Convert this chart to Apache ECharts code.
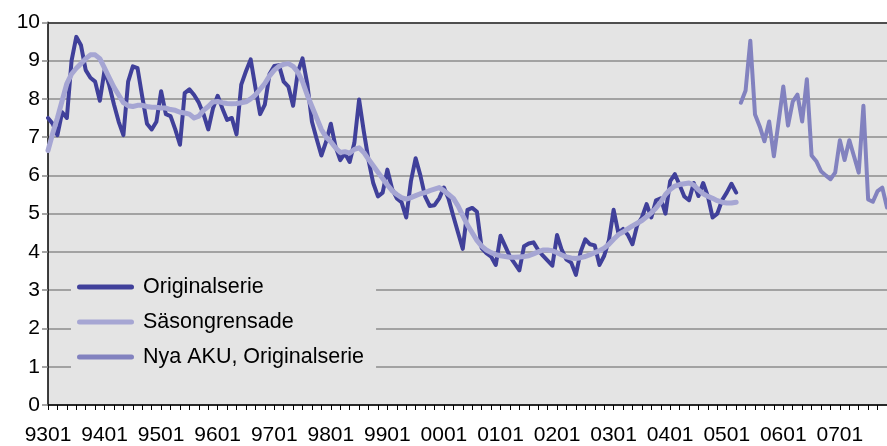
<!DOCTYPE html>
<html>
<head>
<meta charset="utf-8">
<script src="https://cdn.jsdelivr.net/npm/echarts@6/dist/echarts.min.js"></script>
<style>html,body{margin:0;padding:0;background:#fff}#c{width:887px;height:446px}</style>
</head>
<body>
<div id="c"></div>
<script>
// Categories: monthly, 9301 .. 0711 (YYMM)
const categories = [];
for (let y = 1993; y <= 2007; y++) {
  for (let m = 1; m <= 12; m++) {
    if (y === 2007 && m > 11) break;
    categories.push(String(y % 100).padStart(2, '0') + String(m).padStart(2, '0'));
  }
}
const yTicks = [0,1,2,3,4,5,6,7,8,9,10];

// Originalserie 9301 .. 0503
const originalserie = [
  7.5, 7.35, 7.05, 7.65, 7.5, 9.0, 9.62, 9.4, 8.75, 8.55, 8.45, 7.95,
  8.75, 8.35, 7.85, 7.4, 7.05, 8.45, 8.85, 8.8, 8.05, 7.35, 7.2, 7.4,
  8.2, 7.6, 7.55, 7.2, 6.8, 8.15, 8.25, 8.1, 7.9, 7.6, 7.2, 7.75,
  8.08, 7.75, 7.45, 7.5, 7.07, 8.37, 8.72, 9.03, 8.3, 7.6, 7.85, 8.65,
  8.86, 8.88, 8.45, 8.32, 7.82, 8.7, 9.06, 8.4, 7.4, 6.95, 6.52, 6.88,
  7.35, 6.75, 6.4, 6.58, 6.35, 6.85, 7.98, 7.15, 6.4, 5.8, 5.45, 5.55,
  6.15, 5.65, 5.4, 5.3, 4.9, 5.85, 6.45, 6.0, 5.45, 5.2, 5.22, 5.4,
  5.68, 5.38, 4.93, 4.5, 4.08, 5.1, 5.15, 5.05, 4.1, 3.97, 3.88, 3.66,
  4.42, 4.15, 3.88, 3.7, 3.52, 4.15, 4.22, 4.25, 4.05, 3.9, 3.77, 3.64,
  4.44, 4.05, 3.8, 3.72, 3.4, 4.0, 4.33, 4.2, 4.17, 3.66, 3.9, 4.3,
  5.1, 4.5, 4.6, 4.45, 4.2, 4.7, 4.9, 5.25, 4.9, 5.35, 5.4, 5.0,
  5.85, 6.03, 5.75, 5.45, 5.35, 5.8, 5.46, 5.8, 5.45, 4.9, 5.0, 5.35,
  5.55, 5.78, 5.55
];

// Säsongrensade 9301 .. 0503
const sasongrensade = [
  6.65, 7.1, 7.5, 7.95, 8.4, 8.65, 8.8, 8.92, 9.05, 9.15, 9.15, 9.05,
  8.8, 8.55, 8.3, 8.1, 7.9, 7.82, 7.8, 7.83, 7.83, 7.8, 7.78, 7.78,
  7.76, 7.76, 7.72, 7.7, 7.65, 7.63, 7.6, 7.5, 7.55, 7.7, 7.8, 7.92,
  7.93, 7.9, 7.88, 7.87, 7.88, 7.9, 7.92, 8.0, 8.1, 8.25, 8.4, 8.6,
  8.75, 8.85, 8.9, 8.92, 8.85, 8.7, 8.45, 8.1, 7.8, 7.5, 7.2, 7.0,
  6.88, 6.72, 6.6, 6.62, 6.58, 6.68, 6.72, 6.6, 6.42, 6.25, 6.08, 5.92,
  5.75, 5.6, 5.5, 5.42, 5.38, 5.42, 5.47, 5.52, 5.55, 5.6, 5.64, 5.68,
  5.6, 5.5, 5.4, 5.2, 4.95, 4.7, 4.5, 4.3, 4.15, 4.05, 3.98, 3.93,
  3.9, 3.88, 3.86, 3.86, 3.87, 3.88, 3.9, 3.95, 4.0, 4.05, 4.05, 4.03,
  3.98, 3.92, 3.87, 3.84, 3.83, 3.85, 3.88, 3.93, 3.98, 4.03, 4.1, 4.2,
  4.33, 4.45, 4.52, 4.6, 4.68, 4.75, 4.82, 4.92, 5.02, 5.15, 5.3, 5.5,
  5.63, 5.72, 5.76, 5.78, 5.8, 5.75, 5.62, 5.52, 5.45, 5.4, 5.34, 5.3,
  5.28, 5.28, 5.3
];

// Nya AKU, Originalserie 0504 .. 0711
const nyaAkuStart = '0504';
const nyaAku = [
  7.9, 8.22, 9.52, 7.59, 7.28, 6.89, 7.41, 6.5, 7.4, 8.32, 7.3, 7.93,
  8.11, 7.41, 8.51, 6.52, 6.37, 6.11, 6.0, 5.9, 6.07, 6.92, 6.4, 6.92,
  6.5, 6.07, 7.82, 5.37, 5.31, 5.59, 5.68, 5.16
];

const seriesNames = ['Originalserie', 'Säsongrensade', 'Nya AKU, Originalserie'];
const colors = ['#40409a', '#a6a6d3', '#8282bf'];

function pad(arr, startIdx) {
  const out = new Array(categories.length).fill(null);
  arr.forEach((v, k) => { out[startIdx + k] = v; });
  return out;
}
const nyaIdx = categories.indexOf(nyaAkuStart);

const FONT = '"Liberation Sans", Arial, sans-serif';
const chart = echarts.init(document.getElementById('c'), null, {renderer: 'canvas'});
const legendIcon = 'path://M2.5,0 L54.5,0 A2.5,2.5 0 0 1 54.5,5 L2.5,5 A2.5,2.5 0 0 1 2.5,0 Z';

chart.setOption({
  animation: false,
  backgroundColor: '#ffffff',
  color: colors,
  grid: {
    left: 48, right: 0, top: 22.3, bottom: 39.3,
    show: true, backgroundColor: '#e4e4e4', borderWidth: 0
  },
  legend: {
    orient: 'vertical',
    left: 71, top: 262,
    padding: [14, 12, 14, 6],
    backgroundColor: '#e4e4e4',
    itemWidth: 57, itemHeight: 5,
    itemGap: 13,
    icon: legendIcon,
    textStyle: { fontFamily: FONT, fontSize: 21.5, color: '#000', padding: [0, 0, 0, 4] },
    data: seriesNames
  },
  xAxis: [{
    type: 'category',
    data: categories,
    boundaryGap: false,
    axisLine: { lineStyle: { color: '#000', width: 1.5 } },
    axisTick: { interval: 1, length: 5, lineStyle: { color: '#000', width: 1 } },
    axisLabel: { interval: 11, margin: 20, fontFamily: FONT, fontSize: 21, color: '#000' },
    splitLine: { show: false }
  }, {
    type: 'category',
    data: categories,
    boundaryGap: false,
    position: 'top',
    axisLine: { lineStyle: { color: '#333', width: 1.5 } },
    axisTick: { show: false },
    axisLabel: { show: false },
    splitLine: { show: false }
  }],
  yAxis: {
    type: 'value',
    min: yTicks[0], max: yTicks[yTicks.length - 1], interval: 1,
    axisLine: { show: true, lineStyle: { color: '#000', width: 1.5 } },
    axisTick: { show: true, length: 6, lineStyle: { color: '#888', width: 1.5 } },
    axisLabel: { margin: 8, fontFamily: FONT, fontSize: 21, color: '#000' },
    splitLine: { show: true, lineStyle: { color: '#8c8c8c', width: 1.5 } }
  },
  series: [
    {
      name: seriesNames[0], type: 'line', data: pad(originalserie, 0),
      showSymbol: false, symbol: 'none', connectNulls: false,
      lineStyle: { color: colors[0], width: 4, cap: 'round', join: 'round' },
      itemStyle: { color: colors[0] }, z: 3
    },
    {
      name: seriesNames[1], type: 'line', data: pad(sasongrensade, 0),
      showSymbol: false, symbol: 'none',
      lineStyle: { color: colors[1], width: 5, cap: 'round', join: 'round' },
      itemStyle: { color: colors[1] }, z: 4
    },
    {
      name: seriesNames[2], type: 'line', data: pad(nyaAku, nyaIdx),
      showSymbol: false, symbol: 'none',
      lineStyle: { color: colors[2], width: 4, cap: 'round', join: 'round' },
      itemStyle: { color: colors[2] }, z: 4
    }
  ]
});
</script>
</body>
</html>
